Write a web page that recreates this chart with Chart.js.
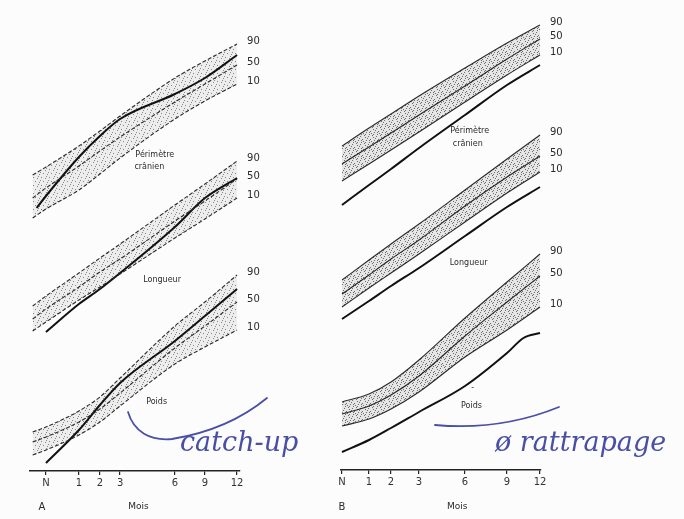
<!DOCTYPE html>
<html>
<head>
<meta charset="utf-8">
<script src="https://cdn.jsdelivr.net/npm/chart.js@4/dist/chart.umd.min.js"></script>
<style>
  body { margin: 0; background: #fcfcfc; }
  #wrap { position: relative; width: 684px; height: 519px; overflow: hidden; }
  canvas { position: absolute; top: 0; }
  #chartA { left: 0; }
  #chartB { left: 300px; }
</style>
</head>
<body>
<div id="wrap">
  <canvas id="chartA" width="310" height="519"></canvas>
  <canvas id="chartB" width="384" height="519"></canvas>
</div>
<script>
// ages (mois) on the axis, N = naissance
const monthTicks = [0, 1, 2, 3, 6, 9, 12];

// ---- A : rattrapage (catch-up) -- heights in arbitrary units above the axis
const monthsA = [-0.5, 0, 1, 2, 3, 6, 9, 12];
const pcA90 = [296, 304, 325, 340, 355, 393, 410, 427];
const pcA50 = [273, 283, 305, 320, 334, 369, 387, 406];
const pcA10 = [253, 262, 281, 297, 313, 352, 370, 387];
const pcChildMonthsA = [-0.35, 0, 1, 2, 3, 6, 9, 12];
const pcChildA = [263, 275, 314, 335, 352, 377, 393, 416];
const lenA90 = [165, 175, 198, 213, 227, 266, 287, 310];
const lenA50 = [152, 162, 184, 199, 212, 250, 270, 292];
const lenA10 = [140, 149, 171, 184, 197, 233, 252, 273];
const childMonthsA = [0, 1, 2, 3, 6, 9, 12];
const lenChildA = [139, 167, 182, 198, 244, 273, 293];
const wtA90 = [39, 44, 60, 74, 93, 145, 169, 196];
const wtA50 = [29, 34, 49, 62, 78, 123, 145, 169];
const wtA10 = [16, 21, 36, 49, 65, 107, 124, 141];
const wtChildA = [8, 41, 66, 88, 130, 155, 182];

// ---- B : pas de rattrapage
const monthsB = [0, 1, 2, 3, 6, 9, 12];
const pcB90 = [324, 342, 356, 374, 402, 427, 445];
const pcB50 = [306, 323, 337, 355, 384, 411, 431];
const pcB10 = [289, 306, 320, 338, 368, 395, 415];
const pcChildB = [265, 285, 301, 322, 355, 385, 405];
const lenB90 = [190, 210, 226, 246, 280, 311, 335];
const lenB50 = [176, 195, 211, 230, 264, 293, 314];
const lenB10 = [163, 182, 197, 216, 248, 277, 298];
const lenChildB = [151, 169, 184, 202, 234, 263, 283];
const wtB90 = [68, 76, 88, 110, 152, 188, 216];
const wtB50 = [56, 64, 75, 94, 134, 168, 194];
const wtB10 = [44, 51, 61, 78, 113, 140, 163];
const wtChildMonthsB = [0, 1, 2, 3, 6, 9, 10.5, 12];
const wtChildB = [18, 30, 42, 58, 84, 117, 132, 137];

// the month axis of the original is not linear: [month, fraction of axis width]
const knots = {
  chartA: [[-0.6, 0], [0, 0.076], [1, 0.233], [2, 0.333], [3, 0.429], [6, 0.69], [9, 0.833], [12, 0.986], [12.3, 1]],
  chartB: [[-0.2, 0], [0, 0.005], [1, 0.14], [2, 0.25], [3, 0.39], [6, 0.62], [9, 0.83], [12, 0.995], [12.1, 1]]
};

class PiecewiseScale extends Chart.LinearScale {
  static id = 'piecewise';
  static defaults = {};
  _knots() { return knots[this.chart.canvas.id]; }
  getPixelForValue(v) {
    if (v == null) return NaN;
    const k = this._knots();
    let i = 1;
    while (i < k.length - 1 && v > k[i][0]) i++;
    const [v0, f0] = k[i - 1], [v1, f1] = k[i];
    return this.getPixelForDecimal(f0 + (v - v0) / (v1 - v0) * (f1 - f0));
  }
  getValueForPixel(px) {
    const d = this.getDecimalForPixel(px);
    const k = this._knots();
    let i = 1;
    while (i < k.length - 1 && d > k[i][1]) i++;
    const [v0, f0] = k[i - 1], [v1, f1] = k[i];
    return v0 + (d - f0) / (f1 - f0) * (v1 - v0);
  }
}
Chart.register(PiecewiseScale);

function stipple(dots, alpha, base) {
  const c = document.createElement('canvas');
  c.width = c.height = 8;
  const g = c.getContext('2d');
  g.fillStyle = `rgba(0,0,0,${base})`;
  g.fillRect(0, 0, 8, 8);
  g.fillStyle = `rgba(30,30,30,${alpha})`;
  dots.forEach(([x, y]) => g.fillRect(x, y, 1, 1));
  return g.createPattern(c, 'repeat');
}
const dotsLight = [[1, 1], [5, 2], [3, 5], [7, 6], [0, 4], [6, 0]];
const dotsDense = [[1, 1], [4, 0], [6, 3], [2, 4], [5, 6], [0, 7], [3, 2], [7, 5], [1, 6], [5, 4]];

const pts = (months, vals) => months.map((m, i) => ({ x: m, y: vals[i] }));

function measure(months, p90, p50, p10, childMonths, child, dashed, pattern) {
  const line = { borderColor: '#2b2b2b', borderWidth: 1.1, pointRadius: 0,
                 cubicInterpolationMode: 'monotone', borderDash: dashed ? [4, 2] : [] };
  return [
    { ...line, data: pts(months, p90), pct: '90', fill: '+2', backgroundColor: pattern },
    { ...line, data: pts(months, p50), pct: '50', fill: false },
    { ...line, data: pts(months, p10), pct: '10', fill: false },
    { data: pts(childMonths, child), borderColor: '#111', borderWidth: 2, pointRadius: 0,
      cubicInterpolationMode: 'monotone', fill: false }
  ];
}

function overlay(panel) {
  return {
    id: 'overlay',
    afterDatasetsDraw(chart) {
      const { ctx, scales: { x, y } } = chart;
      ctx.save();
      ctx.fillStyle = '#2a2a2a';
      ctx.textBaseline = 'middle';
      ctx.textAlign = 'center';
      panel.texts.forEach(([t, m, v, size]) => {
        ctx.font = `${size}px "DejaVu Sans"`;
        ctx.fillText(t, x.getPixelForValue(m), y.getPixelForValue(v));
      });
      ctx.textAlign = 'left';
      ctx.font = '10px "DejaVu Sans"';
      chart.data.datasets.forEach((ds, i) => {
        if (!ds.pct) return;
        const els = chart.getDatasetMeta(i).data;
        const last = els[els.length - 1];
        ctx.fillText(ds.pct, last.x + 10, last.y - 3);
      });
      // handwritten note in blue ink
      ctx.translate(-panel.offset, 0);
      ctx.strokeStyle = '#4a4fa6';
      ctx.fillStyle = '#4a4fa6';
      ctx.lineWidth = 1.8;
      ctx.lineCap = 'round';
      ctx.beginPath();
      panel.swoosh(ctx);
      ctx.stroke();
      ctx.font = `italic ${panel.note.size}px "DejaVu Serif"`;
      ctx.textBaseline = 'alphabetic';
      ctx.fillText(panel.note.text, panel.note.x, panel.note.y);
      ctx.restore();
    }
  };
}

function makeChart(id, datasets, panel, pad, yMax, bottom) {
  const k = knots[id];
  return new Chart(document.getElementById(id), {
    type: 'line',
    data: { datasets },
    options: {
      responsive: false,
      animation: false,
      devicePixelRatio: 1,
      layout: { padding: pad },
      plugins: { legend: { display: false }, tooltip: { enabled: false } },
      scales: {
        x: {
          type: 'piecewise',
          min: k[0][0],
          max: k[k.length - 1][0],
          afterBuildTicks: s => { s.ticks = monthTicks.map(value => ({ value })); },
          afterFit: s => { s.height = bottom; },
          ticks: {
            autoSkip: false, maxRotation: 0, padding: 2, color: '#333',
            font: { size: 10, family: 'DejaVu Sans' },
            callback: v => (v === 0 ? 'N' : String(v))
          },
          grid: { drawOnChartArea: false, tickLength: 4, color: '#222', lineWidth: 1.2 },
          border: { color: '#222', width: 1.6 }
        },
        y: { display: false, min: 0, max: yMax }
      }
    },
    plugins: [overlay(panel)]
  });
}

const dsA = [
  ...measure(monthsA, pcA90, pcA50, pcA10, pcChildMonthsA, pcChildA, true, stipple(dotsLight, 0.5, 0.06)),
  ...measure(monthsA, lenA90, lenA50, lenA10, childMonthsA, lenChildA, true, stipple(dotsLight, 0.5, 0.06)),
  ...measure(monthsA, wtA90, wtA50, wtA10, childMonthsA, wtChildA, true, stipple(dotsLight, 0.5, 0.06))
];
const dsB = [
  ...measure(monthsB, pcB90, pcB50, pcB10, monthsB, pcChildB, false, stipple(dotsDense, 0.6, 0.09)),
  ...measure(monthsB, lenB90, lenB50, lenB10, monthsB, lenChildB, false, stipple(dotsDense, 0.6, 0.09)),
  ...measure(monthsB, wtB90, wtB50, wtB10, wtChildMonthsB, wtChildB, false, stipple(dotsDense, 0.6, 0.09))
];

makeChart('chartA', dsA, {
  offset: 0,
  texts: [['Périmètre', 4.9, 316, 8], ['crânien', 4.6, 304, 8], ['Longueur', 5.3, 191, 8],
          ['Poids', 5.0, 69, 8], ['A', -0.15, -36, 10], ['Mois', 4.0, -36, 9]],
  swoosh: c => { c.moveTo(128, 412); c.bezierCurveTo(134, 432, 150, 441, 172, 439); c.quadraticCurveTo(228, 430, 267, 398); },
  note: { text: 'catch-up', x: 180, y: 451, size: 27 }
}, { left: 30, right: 70, top: 5, bottom: 0 }, 466, 48);

makeChart('chartB', dsB, {
  offset: 300,
  texts: [['Périmètre', 6.33, 339, 8], ['crânien', 6.2, 326, 8], ['Longueur', 6.26, 207, 8],
          ['Poids', 6.46, 64, 8], ['-', 6.55, 82, 8], ['B', 0, -37, 10], ['Mois', 5.5, -37, 9]],
  swoosh: c => { c.moveTo(435, 425); c.quadraticCurveTo(500, 431, 559, 407); },
  note: { text: 'ø rattrapage', x: 495, y: 451, size: 27 }
}, { left: 41, right: 143, top: 5, bottom: 0 }, 465, 49);
</script>
</body>
</html>
